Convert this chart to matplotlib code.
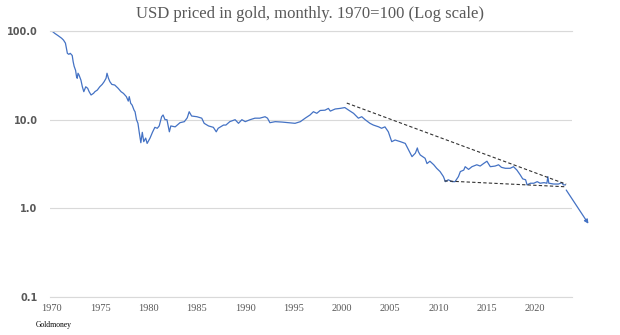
import matplotlib
matplotlib.use("Agg")
import matplotlib.pyplot as plt
import numpy as np

# USD priced in gold, index 1970=100
years = [1970.0, 1970.3, 1970.65, 1971.0, 1971.2, 1971.4, 1971.5, 1971.6, 1971.75, 1971.9,
         1972.1, 1972.2, 1972.3, 1972.45, 1972.55, 1972.62, 1972.7, 1972.8, 1973.0, 1973.15,
         1973.3, 1973.5, 1973.7, 1973.85, 1974.05, 1974.3, 1974.45, 1974.7, 1974.95, 1975.2,
         1975.4, 1975.6, 1975.7, 1975.85, 1976.0, 1976.2, 1976.5, 1976.85, 1977.15, 1977.4,
         1977.55, 1977.7, 1977.9, 1978.0, 1978.15, 1978.3, 1978.5, 1978.6, 1978.75, 1978.9,
         1979.05, 1979.2, 1979.35, 1979.5, 1979.7, 1979.85, 1980.15, 1980.4, 1980.65, 1980.9,
         1981.1, 1981.35, 1981.5, 1981.7, 1981.9, 1982.15, 1982.3, 1982.75, 1983.25, 1983.7,
         1984.0, 1984.2, 1984.45, 1985.0, 1985.5, 1985.75, 1986.2, 1986.7, 1987.0, 1987.2,
         1987.75, 1988.0, 1988.4, 1988.95, 1989.3, 1989.65, 1990.0, 1990.5, 1991.0, 1991.5,
         1992.05, 1992.3, 1992.55, 1993.1, 1993.8, 1994.45, 1995.15, 1995.7, 1996.2, 1996.7,
         1997.05, 1997.4, 1997.75, 1998.25, 1998.6, 1998.8, 1999.3, 1999.8, 2000.3, 2000.7,
         2001.2, 2001.7, 2002.05, 2002.4, 2002.9, 2003.25, 2003.8, 2004.1, 2004.45, 2004.8,
         2005.15, 2005.5, 2006.05, 2006.55, 2006.9, 2007.25, 2007.6, 2007.8, 2007.9, 2008.1,
         2008.6, 2008.8, 2009.1, 2009.5, 2009.8, 2010.15, 2010.5, 2010.7, 2011.0, 2011.4,
         2011.7, 2012.05, 2012.25, 2012.6, 2012.75, 2013.1, 2013.45, 2013.95, 2014.3, 2014.65,
         2015.0, 2015.35, 2015.85, 2016.2, 2016.5, 2016.9, 2017.4, 2017.75, 2018.1, 2018.45,
         2018.7, 2019.0, 2019.15, 2019.5, 2019.85, 2020.2, 2020.5, 2020.9, 2021.2, 2021.3,
         2021.4, 2021.9, 2022.4, 2022.75, 2022.9, 2023.1]
usd_in_gold = [100, 94, 88.5, 83, 79, 73, 64, 56, 54.6, 56,
               53, 45, 40, 36, 30.5, 29.3, 33.4, 32, 28, 23.5,
               20.7, 23.5, 22.6, 20.7, 19, 19.8, 20.7, 21.6, 23.5, 25,
               26.8, 29.3, 33.4, 29.3, 26.8, 25, 24.6, 22.6, 20.7, 19.8,
               19, 18.2, 16.2, 18.2, 15.3, 14.6, 12.8, 12.3, 10, 9.1,
               7.0, 5.5, 7.2, 5.65, 6.2, 5.4, 6.2, 7.2, 8.2, 8.0,
               8.5, 10.8, 11.3, 10, 10, 7.3, 8.5, 8.3, 9.25, 9.5,
               10.5, 12.3, 11, 10.8, 10.4, 9.1, 8.5, 8.2, 7.3, 8.0,
               8.7, 8.7, 9.5, 10, 9.1, 10, 9.5, 10, 10.4, 10.4,
               10.8, 10.4, 9.25, 9.5, 9.4, 9.25, 9.1, 9.5, 10.4, 11.3,
               12.3, 11.8, 12.7, 12.8, 13.4, 12.5, 13.2, 13.4, 13.7, 12.8,
               11.8, 10.4, 10.8, 10, 9.1, 8.7, 8.3, 8.0, 8.3, 7.3,
               5.65, 5.9, 5.65, 5.4, 4.55, 3.83, 4.2, 4.8, 4.37, 4.0,
               3.67, 3.2, 3.4, 3.1, 2.83, 2.6, 2.28, 2.0, 2.1, 2.0,
               2.0, 2.28, 2.6, 2.7, 2.95, 2.75, 2.95, 3.1, 3.0, 3.2,
               3.4, 2.95, 3.0, 3.1, 2.9, 2.83, 2.83, 2.95, 2.7, 2.38,
               2.15, 2.1, 1.84, 1.92, 1.92, 2.0, 1.92, 1.95, 1.92, 2.28,
               1.92, 1.88, 1.88, 1.95, 1.84, 1.84]

# hand-drawn trend lines and projection arrow
upper_x = [2000.5, 2023.2]
upper_y = [15.4, 1.87]
lower_x = [2010.6, 2023.2]
lower_y = [2.04, 1.75]
arrow_from = (2023.2, 1.61)
arrow_to = (2025.5, 0.67)

x_ticks = list(range(1970, 2021, 5))
y_ticks = [0.1, 1, 10, 100]
y_labels = ["0.1", "1.0", "10.0", "100.0"]

grey = "#595959"
serif = ["Liberation Serif", "DejaVu Serif"]

fig = plt.figure(figsize=(6.2, 3.35), dpi=100)
ax = fig.add_axes([0.0806, 0.1134, 0.842, 0.794])

ax.plot(years, usd_in_gold, color="#4472C4", lw=0.9)
ax.plot(upper_x, upper_y, color="#333333", lw=0.8, ls=(0, (3, 2)))
ax.plot(lower_x, lower_y, color="#333333", lw=0.8, ls=(0, (3, 2)))
ax.annotate("", xy=arrow_to, xytext=arrow_from, annotation_clip=False,
            arrowprops=dict(arrowstyle="-|>", color="#4472C4", lw=0.9,
                            mutation_scale=6, shrinkA=0, shrinkB=0))

ax.set_yscale("log")
ax.set_ylim(0.1, 100)
ax.set_xlim(1969.8, 2023.8)
ax.set_yticks(y_ticks)
ax.set_yticklabels(y_labels)
ax.yaxis.set_minor_locator(matplotlib.ticker.NullLocator())
ax.set_xticks(x_ticks)
ax.set_xticklabels([str(y) for y in x_ticks])

ax.grid(axis="y", color="#d9d9d9", lw=0.8)
for side in ["left", "right"]:
    ax.spines[side].set_visible(False)
for side in ["top", "bottom"]:
    ax.spines[side].set_color("#d9d9d9")
    ax.spines[side].set_linewidth(0.8)

ax.tick_params(axis="both", length=0)
ax.tick_params(axis="y", pad=9, labelsize=7, labelcolor=grey)
ax.tick_params(axis="x", pad=5, labelsize=7.5, labelcolor=grey)
for lab in ax.get_yticklabels():
    lab.set_fontweight("bold")
for lab in ax.get_xticklabels():
    lab.set_family(serif)

fig.text(0.5, 0.958, "USD priced in gold, monthly. 1970=100 (Log scale)",
         ha="center", va="center", fontsize=12, color=grey, family=serif)
fig.text(0.058, 0.03, "Goldmoney", ha="left", va="center", fontsize=5.5,
         color="black", family=serif)

fig.savefig("out.png", dpi=100)
